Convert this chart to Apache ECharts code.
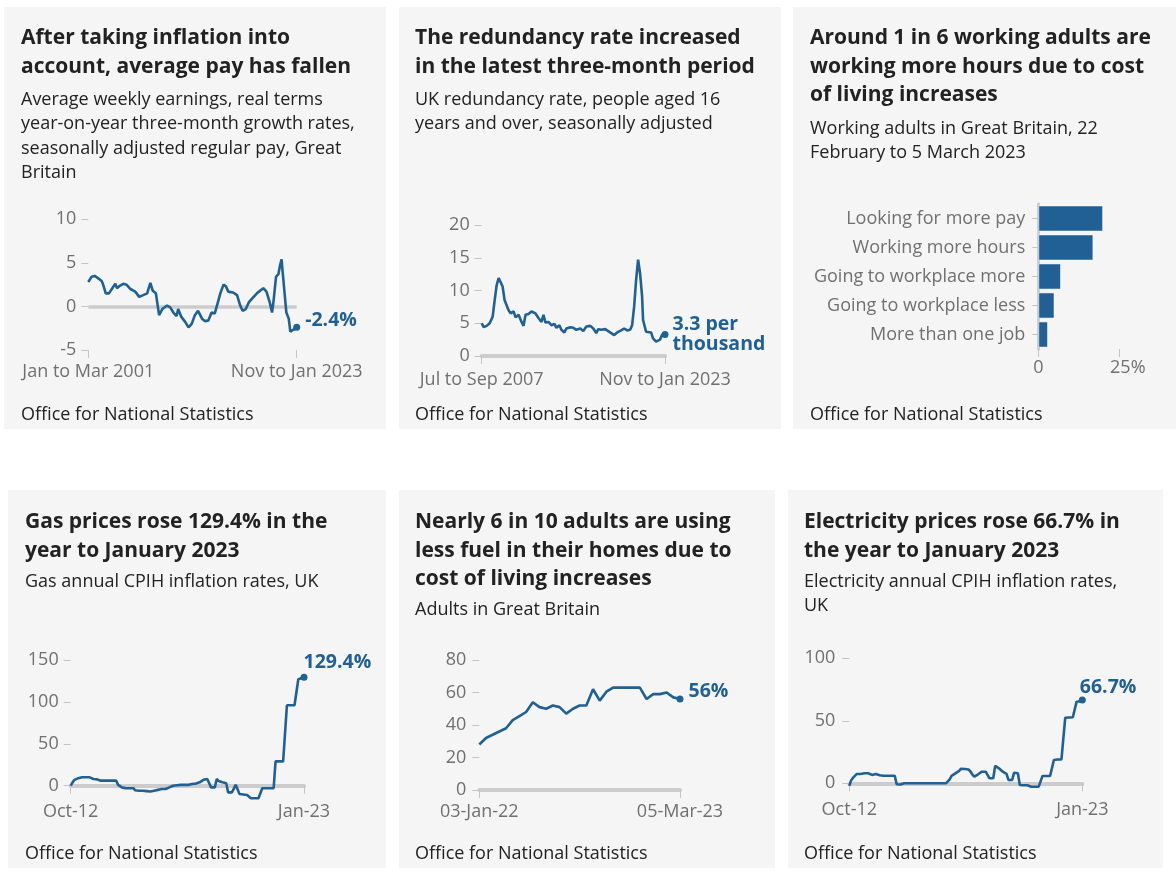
<!DOCTYPE html>
<html><head><meta charset="utf-8">
<script src="https://cdn.jsdelivr.net/npm/echarts@6/dist/echarts.min.js"></script>
<style>html,body{margin:0;padding:0;background:#fff}#c{width:1176px;height:877px}</style>
</head><body><div id="c"></div>
<script>
// ---------- DATA ----------
// Panel 1: real average weekly earnings growth (%), by month at centre of three-month period
const payDates = ['2001-02','2001-06','2001-10','2002-03','2002-07','2002-09','2002-12','2003-04','2003-09','2003-12','2004-02','2004-06','2004-10','2005-02','2005-07','2006-01','2006-06','2006-11','2007-04','2007-08','2007-11','2008-03','2008-07','2008-11','2009-05','2009-09','2010-01','2010-05','2010-07','2010-11','2011-04','2011-08','2011-12','2012-04','2012-08','2013-01','2013-05','2013-09','2014-01','2014-05','2014-09','2014-12','2015-04','2015-07','2015-10','2016-04','2016-09','2017-01','2017-04','2017-08','2017-12','2018-05','2018-10','2019-02','2019-06','2019-10','2020-02','2020-05','2020-07','2020-10','2021-01','2021-03','2021-05','2021-06','2021-09','2021-11','2022-02','2022-04','2022-07','2022-10','2022-12'];
const payValues = [2.8,3.4,3.5,3.2,2.9,2.4,1.5,1.5,2.2,2.6,2.1,2.4,2.6,2.5,2.0,1.7,1.1,1.3,1.5,2.7,1.8,1.5,-1.0,-0.3,0.1,-0.1,-0.7,-1.1,-0.3,-1.2,-1.8,-2.4,-2.0,-1.0,-0.5,-1.4,-1.7,-1.6,-0.7,-0.8,0.5,1.5,2.5,2.3,1.7,1.6,1.3,0.1,-0.5,-0.3,0.5,1.0,1.5,1.8,2.1,1.7,0.5,-0.7,0.7,3.4,3.7,4.7,5.4,4.3,1.3,-0.7,-1.4,-2.9,-2.7,-2.6,-2.4];
const payTickLabels = ['Jan to Mar 2001','Nov to Jan 2023'];

// Panel 2: redundancy rate (per thousand)
const redDates = ['2007-08','2007-10','2008-01','2008-04','2008-07','2008-09','2008-11','2009-01','2009-03','2009-05','2009-07','2009-11','2010-01','2010-04','2010-06','2010-09','2010-12','2011-02','2011-04','2011-07','2011-10','2011-12','2012-02','2012-05','2012-08','2012-10','2012-12','2013-03','2013-06','2013-09','2013-11','2014-02','2014-04','2014-07','2014-09','2015-01','2015-04','2015-07','2015-11','2016-02','2016-05','2016-09','2016-12','2017-03','2017-05','2017-08','2017-12','2018-03','2018-06','2018-09','2018-12','2019-04','2019-07','2019-10','2020-01','2020-03','2020-05','2020-07','2020-09','2020-11','2021-01','2021-02','2021-05','2021-07','2021-10','2021-12','2022-03','2022-05','2022-07','2022-09','2022-12'];
const redValues = [5.0,4.4,4.6,5.0,6.0,8.5,10.8,11.9,12.2,10.6,8.5,7.0,6.5,6.8,5.9,6.3,5.2,4.6,6.3,6.4,6.8,7.1,6.5,5.8,5.2,6.3,5.1,5.2,4.7,4.9,4.3,4.7,4.0,3.6,4.2,4.4,4.3,4.0,4.2,3.8,4.5,4.6,4.2,3.5,4.1,4.0,4.1,3.8,3.5,3.2,3.6,3.9,4.2,3.9,4.0,4.7,7.5,11.6,14.7,12.6,9.1,5.5,3.7,3.5,3.6,2.7,2.2,2.0,2.5,3.2,3.3];
const redTickLabels = ['Jul to Sep 2007','Nov to Jan 2023'];

// Panel 3: working adults actions (%)
const workCategories = ['Looking for more pay','Working more hours','Going to workplace more','Going to workplace less','More than one job'];
const workValues = [20,17,7,5,3];

// Panel 4 & 6: monthly CPIH annual rates, Oct 2012 to Jan 2023
const gasValues = [0,4,7,8,9,9.5,10,10,10,10,
  10,9,8,8.5,7.5,7,6,6,6,6,
  6,6,6,6,6,1,-1,-2,-2.5,-3,
  -3,-3,-3,-3,-5.5,-6,-6,-6,-6,-6,
  -6.5,-7,-7,-6.5,-6,-6,-5,-4,-4,-4,
  -4,-4,-2,-1,0,0,0.5,1,1,1,
  1,1,1,1.5,2,2,2.5,3,4,5,
  7,8,8,8,-2,-2,-2,8,5.5,5,
  4,3.5,3,-8,-8,-8,-8,1,0,-10,
  -10,-10.5,-11,-11,-11,-15,-15,-15,-15,-15,
  -15,-3,-3,-3,-3,-3,-3,-3,29,29,
  29,29,29,29,96,96,96,96,96,96,
  127,128,128.5,129.4];
const elecValues = [-2,2.5,4.5,6,7.5,7.5,7.5,7.5,8,8,
  8,8.5,6.7,8,7.5,7,6.5,6,6,6,
  6,6,6,6,6,-0.8,-1,-1,0,0,
  0,0,0,0,0,0,0,0,0,0,
  0,0,0,0,0,0,0,0,0,0,
  0,0,1.5,3.2,6,7.5,8,8.5,10,11.7,
  11.7,11.5,11.5,11,9.3,7,5.3,6.5,7.2,8.5,
  9.3,9.3,9.3,9.3,4,4,4,13.9,13,12,
  10.5,9.3,8.5,7.5,2.7,2.7,2.7,8.5,8,8,
  -1.3,-1.3,-1.5,-1.5,-1.6,-2,-2.7,-2.7,-2.7,-2.7,
  -2.7,-2.7,5.9,5.9,5.9,5.9,5.9,5.9,18.7,18.8,
  19,19,19.1,19.2,52.5,52.6,52.7,52.7,52.8,53,
  65.3,65.5,65.7,66.7];
const monthNames = ['Jan','Feb','Mar','Apr','May','Jun','Jul','Aug','Sep','Oct','Nov','Dec'];
function monthCategories(year, month, n) {
  const out = [];
  for (let i = 0; i < n; i++) {
    const m = (month + i) % 12, y = year + Math.floor((month + i) / 12);
    out.push(monthNames[m] + '-' + String(y % 100).padStart(2, '0'));
  }
  return out;
}
const cpihMonths = monthCategories(2012, 9, gasValues.length); // Oct-12 .. Jan-23

// Panel 5: adults using less fuel (%)
const fuelDates = ['03-Jan-22','17-Jan-22','31-Jan-22','14-Feb-22','28-Feb-22','14-Mar-22','28-Mar-22','11-Apr-22','25-Apr-22','09-May-22','23-May-22','06-Jun-22','20-Jun-22','04-Jul-22','18-Jul-22','01-Aug-22','15-Aug-22','29-Aug-22','12-Sep-22','26-Sep-22','10-Oct-22','24-Oct-22','07-Nov-22','21-Nov-22','05-Dec-22','19-Dec-22','02-Jan-23','16-Jan-23','30-Jan-23','13-Feb-23','05-Mar-23'];
const fuelValues = [28,32,34,36,38,43,45.5,48,54,51,50,52,51,47,50,52,52,62,55,60.5,63,63,63,63,63,56,59,59,60,57,56];

// ---------- STYLE ----------
const BLUE = '#206095', ZERO = '#cccccc', TICK = '#c4c4c4', LABEL = '#707070', TEXT = '#222222';
const FONT = '"Open Sans", sans-serif';
const AX = 18;

const panels = [
  {x:4, y:7, w:382, h:422, tx:21, title:'After taking inflation into\naccount, average pay has fallen', tY:38,
   sub:'Average weekly earnings, real terms\nyear-on-year three-month growth rates,\nseasonally adjusted regular pay, Great\nBritain', sY:99, fY:414},
  {x:399, y:7, w:382, h:422, tx:415, title:'The redundancy rate increased\nin the latest three-month period', tY:38,
   sub:'UK redundancy rate, people aged 16\nyears and over, seasonally adjusted', sY:99, fY:414},
  {x:793, y:7, w:383, h:422, tx:810, title:'Around 1 in 6 working adults are\nworking more hours due to cost\nof living increases', tY:38,
   sub:'Working adults in Great Britain, 22\nFebruary to 5 March 2023', sY:128, fY:414},
  {x:8, y:490, w:378, h:378, tx:25, title:'Gas prices rose 129.4% in the\nyear to January 2023', tY:522,
   sub:'Gas annual CPIH inflation rates, UK', sY:581, fY:853},
  {x:399, y:490, w:376, h:378, tx:415, title:'Nearly 6 in 10 adults are using\nless fuel in their homes due to\ncost of living increases', tY:522,
   sub:'Adults in Great Britain', sY:609, fY:853},
  {x:788, y:490, w:375, h:378, tx:804, title:'Electricity prices rose 66.7% in\nthe year to January 2023', tY:522,
   sub:'Electricity annual CPIH inflation rates,\nUK', sY:581, fY:853}
];

const graphics = [];
panels.forEach(p => {
  graphics.push({type:'rect', z:-10, shape:{x:p.x, y:p.y, width:p.w, height:p.h}, style:{fill:'#f5f5f5'}, silent:true});
  graphics.push({type:'text', x:p.tx, y:p.tY - 14.5 + 0.5, style:{text:p.title, font:'bold 21px ' + FONT, fill:TEXT, lineHeight:28.6, verticalAlign:'top'}});
  graphics.push({type:'text', x:p.tx, y:p.sY - 12.25 + 0.5, style:{text:p.sub, font:AX + 'px ' + FONT, fill:TEXT, lineHeight:24.6, verticalAlign:'top'}});
  graphics.push({type:'text', x:p.tx, y:p.fY - 12 + 0.5, style:{text:'Office for National Statistics', font:AX + 'px ' + FONT, fill:TEXT, lineHeight:24, verticalAlign:'top'}});
});

// ---------- AXES ----------
// month count from a 'YYYY-MM' string, used as the x value on a linear month scale
const monthNum = s => { const [y, m] = s.split('-').map(Number); return y * 12 + (m - 1); };
function yAxisValue(gridIndex, min, max, interval, margin) {
  return {type:'value', gridIndex, min, max, interval,
    axisLine:{show:false}, splitLine:{show:false},
    axisTick:{show:true, length:7, lineStyle:{color:TICK, width:1}},
    axisLabel:{color:LABEL, fontSize:AX, fontFamily:FONT, margin}};
}
function xAxisMonths(gridIndex, dates, labels, showLine, margin) {
  const t0 = monthNum(dates[0]), t1 = monthNum(dates[dates.length - 1]);
  return {type:'value', gridIndex, min:t0, max:t1,
    axisLine:{show:showLine, onZero:false, lineStyle:{color:ZERO, width:4}}, splitLine:{show:false},
    axisTick:{show:true, length:8, customValues:[t0, t1], lineStyle:{color:TICK, width:1}},
    axisLabel:{customValues:[t0, t1], showMinLabel:true, showMaxLabel:true, hideOverlap:false,
      color:LABEL, fontSize:AX, fontFamily:FONT, margin,
      formatter: v => (Math.abs(v - t0) < Math.abs(v - t1) ? labels[0] : labels[1])}};
}
function xAxisCat(gridIndex, cats, margin) {
  const last = cats.length - 1;
  const edge = i => i === 0 || i === last;
  return {type:'category', gridIndex, data:cats, boundaryGap:false,
    axisLine:{show:true, onZero:false, lineStyle:{color:ZERO, width:4}}, splitLine:{show:false},
    axisTick:{show:true, length:8, interval:edge, lineStyle:{color:TICK, width:1}},
    axisLabel:{interval:edge, color:LABEL, fontSize:AX, fontFamily:FONT, margin}};
}

function endLabel(text, offset, distance) {
  return {show:true, position:'right', distance, offset, formatter:text, color:BLUE,
    fontWeight:'bold', fontSize:19.5, fontFamily:FONT, lineHeight:20, align:'left'};
}
function lineSeries(idx, data, labelText, offset, distance, clip) {
  const last = data.length - 1;
  return {type:'line', xAxisIndex:idx, yAxisIndex:idx, clip,
    symbol:'circle', symbolSize:0, showSymbol:true, showAllSymbol:true,
    lineStyle:{color:BLUE, width:2.6}, itemStyle:{color:BLUE},
    emphasis:{disabled:true}, silent:true,
    data: data.map((d, i) => i === last ? {value:d, symbolSize:7, label:endLabel(labelText, offset, distance)} : d)};
}

const option = {
  animation:false,
  textStyle:{fontFamily:FONT},
  graphic:{elements:graphics},
  grid:[
    {left:88.3, top:219.3, width:208.4, height:130.7, outerBoundsMode:'none'},
    {left:481.7, top:225, width:183.3, height:131, outerBoundsMode:'none'},
    {left:1038.3, top:204, width:81, height:145, outerBoundsMode:'none'},
    {left:70.7, top:660, width:233.3, height:125.7, outerBoundsMode:'none'},
    {left:479.3, top:660, width:200.7, height:130, outerBoundsMode:'none'},
    {left:849.3, top:658.3, width:233, height:125, outerBoundsMode:'none'}
  ],
  xAxis:[
    xAxisMonths(0, payDates, payTickLabels, false, 13),
    xAxisMonths(1, redDates, redTickLabels, true, 15),
    {type:'value', gridIndex:2, min:0, max:25, interval:25,
      axisLine:{show:false}, splitLine:{show:false},
      axisTick:{show:true, length:8, lineStyle:{color:TICK}},
      axisLabel:{color:LABEL, fontSize:AX, fontFamily:FONT, margin:10,
        formatter: v => v === 0 ? '0' : '{s|}' + v + '%', rich:{s:{width:17}}}},
    xAxisCat(3, cpihMonths, 17),
    xAxisCat(4, fuelDates, 13),
    xAxisCat(5, cpihMonths, 18)
  ],
  yAxis:[
    yAxisValue(0, -5, 10, 5, 12),
    yAxisValue(1, 0, 20, 5, 12),
    {type:'category', gridIndex:2, data:workCategories, inverse:true,
      axisLine:{show:true, lineStyle:{color:ZERO, width:3}},
      axisTick:{show:true, length:6, alignWithLabel:true, lineStyle:{color:TICK}},
      splitLine:{show:false},
      axisLabel:{color:LABEL, fontSize:AX, fontFamily:FONT, margin:13}},
    yAxisValue(3, 0, 150, 50, 12),
    yAxisValue(4, 0, 80, 20, 13),
    yAxisValue(5, 0, 100, 50, 14)
  ],
  series:[
    Object.assign(lineSeries(0, payDates.map((d, i) => [monthNum(d), payValues[i]]), '-2.4%', [0, -7], 5, true), {
      markLine:{silent:true, symbol:'none', z:1, label:{show:false}, emphasis:{disabled:true},
        lineStyle:{color:ZERO, width:3.5, type:'solid'}, data:[{yAxis:0}]}}),
    lineSeries(1, redDates.map((d, i) => [monthNum(d), redValues[i]]), '3.3 per\nthousand', [0, 0], 4, true),
    {type:'bar', xAxisIndex:2, yAxisIndex:2, data:workValues, barCategoryGap:'10%', silent:true,
      itemStyle:{color:BLUE, borderColor:'rgba(255,255,255,0.5)', borderWidth:1}},
    lineSeries(3, gasValues, '129.4%', [-4, -15], 0, false),
    lineSeries(4, fuelValues, '56%', [0, -8], 5, false),
    lineSeries(5, elecValues, '66.7%', [-6, -12], 0, false)
  ]
};
const chart = echarts.init(document.getElementById('c'), null, {renderer:'canvas'});
chart.setOption(option);
</script></body></html>
